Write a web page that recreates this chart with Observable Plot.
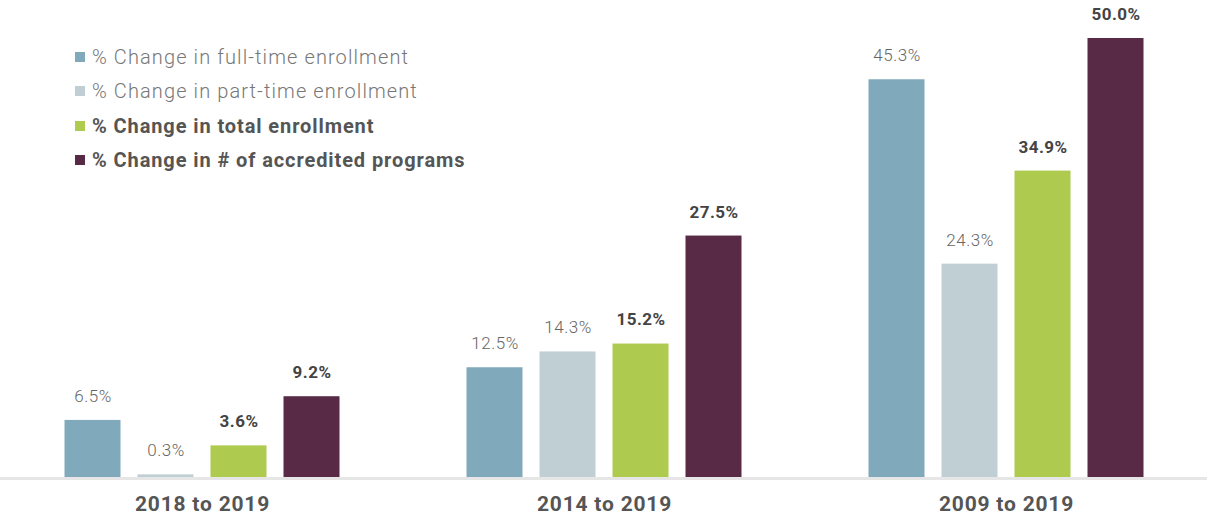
<!DOCTYPE html>
<html>
<head>
<meta charset="utf-8">
<script src="https://cdn.jsdelivr.net/npm/d3@7"></script>
<script src="https://cdn.jsdelivr.net/npm/@observablehq/plot@0.6"></script>
<style>
  html, body { margin: 0; padding: 0; background: #fff; }
  #wrap { position: relative; width: 1207px; height: 514px; font-family: Roboto, "DejaVu Sans", sans-serif; }
  #legend { position: absolute; left: 75px; top: 40px; }
  .row { display: flex; align-items: center; height: 34.3px; font-size: 20px; color: #777; font-weight: 300; letter-spacing: 1.1px; white-space: nowrap; }
  .row.bold { font-weight: 700; color: #555; letter-spacing: 0.9px; }
  .sw { width: 10px; height: 10px; margin-right: 7px; flex: none; }
  .vlabel { letter-spacing: 0.5px; }
  .cat text { letter-spacing: 0.8px; }
</style>
</head>
<body>
<div id="wrap"><div id="legend"></div></div>
<script>
const groups = ["2018 to 2019", "2014 to 2019", "2009 to 2019"];
const seriesNames = [
  "% Change in full-time enrollment",
  "% Change in part-time enrollment",
  "% Change in total enrollment",
  "% Change in # of accredited programs"
];
const seriesColors = ["#80aabb", "#bfcfd3", "#aeca4f", "#582a45"];
const boldSeries = [false, false, true, true];
const fullTime = [6.5, 12.5, 45.3];
const partTime = [0.3, 14.3, 24.3];
const totalEnroll = [3.6, 15.2, 34.9];
const programs = [9.2, 27.5, 50.0];

const seriesValues = [fullTime, partTime, totalEnroll, programs];
const data = [];
groups.forEach((g, gi) => {
  seriesNames.forEach((s, si) => {
    data.push({group: g, series: s, value: seriesValues[si][gi], bold: boldSeries[si]});
  });
});

const plot = Plot.plot({
  width: 1207,
  height: 514,
  marginLeft: 55.5,
  marginRight: 55,
  marginTop: 38,
  marginBottom: 37,
  style: {fontFamily: "Roboto, 'DejaVu Sans', sans-serif", background: "#fff", overflow: "visible"},
  fx: {domain: groups, paddingInner: 0.2745, paddingOuter: 0, label: null},
  x: {domain: seriesNames, paddingInner: 0.233, paddingOuter: 0.1165, axis: null},
  y: {domain: [0, 50], axis: null},
  color: {domain: seriesNames, range: seriesColors},
  marks: [
    Plot.barY(data, {fx: "group", x: "series", y: "value", fill: "series"}),
    Plot.text(data.filter(d => !d.bold), {
      fx: "group", x: "series", y: "value", text: d => d.value.toFixed(1) + "%",
      dy: -24, lineAnchor: "middle", fontSize: 17, fontWeight: 300, fill: "#666", className: "vlabel"
    }),
    Plot.text(data.filter(d => d.bold), {
      fx: "group", x: "series", y: "value", text: d => d.value.toFixed(1) + "%",
      dy: -24, lineAnchor: "middle", fontSize: 17, fontWeight: 700, fill: "#444", className: "vlabel"
    }),
    Plot.axisFx({anchor: "bottom", tickSize: 0, tickPadding: 19, fontSize: 21, fontWeight: 700, color: "#555", label: null, className: "cat"})
  ]
});

// full-width baseline positioned with the plot's own y scale
const y0 = plot.scale("y").apply(0);
d3.select(plot).insert("line", ":first-child")
  .attr("x1", 0).attr("x2", 1207)
  .attr("y1", y0 + 1.5).attr("y2", y0 + 1.5)
  .attr("stroke", "#e6e6e6").attr("stroke-width", 3);

document.getElementById("wrap").prepend(plot);

const legend = document.getElementById("legend");
seriesNames.forEach((s, i) => {
  const row = document.createElement("div");
  row.className = "row" + (boldSeries[i] ? " bold" : "");
  const sw = document.createElement("span");
  sw.className = "sw";
  sw.style.background = seriesColors[i];
  row.appendChild(sw);
  row.appendChild(document.createTextNode(s));
  legend.appendChild(row);
});
</script>
</body>
</html>
